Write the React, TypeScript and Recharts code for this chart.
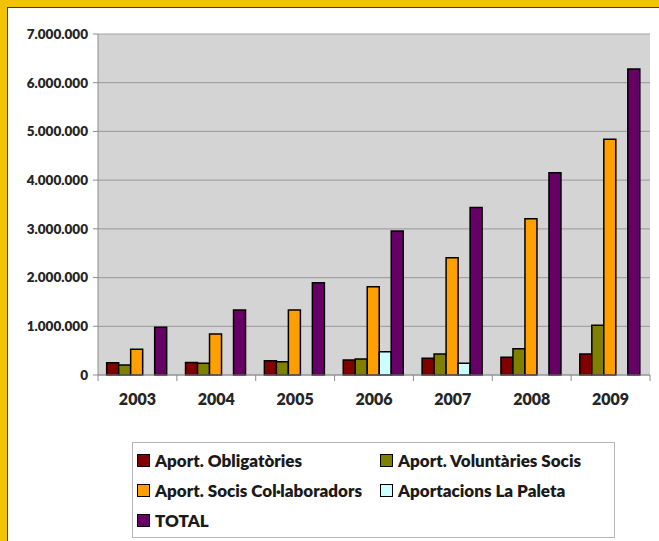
import { BarChart, Bar, XAxis, YAxis, CartesianGrid, Legend } from "recharts"

const YEARS = ["2003", "2004", "2005", "2006", "2007", "2008", "2009"]

const OBLIGATORIES = [253000, 255000, 294000, 308000, 343000, 363000, 431000]
const VOLUNTARIES = [205000, 242000, 273000, 328000, 431000, 540000, 1020000]
const COLLABORADORS = [527000, 842000, 1335000, 1810000, 2405000, 3210000, 4840000]
const PALETA = [null, null, null, 478000, 240000, null, null]
const TOTAL = [979000, 1335000, 1895000, 2955000, 3440000, 4150000, 6280000]

const Y_TICKS = [0, 1000000, 2000000, 3000000, 4000000, 5000000, 6000000, 7000000]

const SERIES = [
  { key: "obl", name: "Aport. Obligatòries", color: "#800000" },
  { key: "vol", name: "Aport. Voluntàries Socis", color: "#7F7F00" },
  { key: "col", name: "Aport. Socis Col·laboradors", color: "#FF9F00" },
  { key: "pal", name: "Aportacions La Paleta", color: "#CCFFFF" },
  { key: "tot", name: "TOTAL", color: "#660066" },
]

const data = YEARS.map((year, i) => ({
  year,
  obl: OBLIGATORIES[i],
  vol: VOLUNTARIES[i],
  col: COLLABORADORS[i],
  pal: PALETA[i],
  tot: TOTAL[i],
}))

const FONT = "Lato, 'Open Sans', sans-serif"

const formatThousands = (v: number) =>
  String(v).replace(/\B(?=(\d{3})+(?!\d))/g, ".")

const YearTick = (props: any) => {
  const { x, y, payload, index } = props
  const half = payload?.offset ?? 39.4
  return (
    <g>
      <line x1={x - half} x2={x - half} y1={y - 8} y2={y - 2} stroke="#8c8c8c" />
      {index === YEARS.length - 1 && (
        <line x1={x + half} x2={x + half} y1={y - 8} y2={y - 2} stroke="#8c8c8c" />
      )}
      <text
        x={x}
        y={y + 22}
        textAnchor="middle"
        fontFamily={FONT}
        fontWeight={800}
        fontSize={16}
        fill="#262626"
      >
        {payload.value}
      </text>
    </g>
  )
}

const LegendBox = () => (
  <div
    style={{
      border: "1px solid #b5b5b5",
      width: 481,
      height: 92,
      boxSizing: "content-box",
      display: "grid",
      gridTemplateColumns: "243px 238px",
      gridAutoRows: "30px",
      paddingTop: 2,
      fontFamily: FONT,
      fontWeight: 800,
      fontSize: 17,
      color: "#1a1a1a",
    }}
  >
    {SERIES.map((s) => (
      <div key={s.key} style={{ display: "flex", alignItems: "center", paddingLeft: 4 }}>
        <span
          style={{
            width: 11,
            height: 11,
            background: s.color,
            border: "1.5px solid #000",
            marginRight: 5,
            flex: "none",
          }}
        />
        <span style={{ whiteSpace: "nowrap" }}>{s.name}</span>
      </div>
    ))}
  </div>
)

export default function App() {
  return (
    <div
      style={{
        position: "absolute",
        left: 0,
        top: 0,
        width: 659,
        height: 541,
        background: "#F2C300",
        overflow: "hidden",
      }}
    >
      <div
        style={{
          position: "absolute",
          left: 7,
          top: 7,
          width: 660,
          height: 540,
          background: "#fff",
          borderTop: "1px solid #3a3a3a",
          borderLeft: "1px solid #3a3a3a",
        }}
      />
      <div style={{ position: "absolute", left: 0, top: 0 }}>
        <BarChart
          width={659}
          height={541}
          data={data}
          margin={{ top: 34, right: 9, bottom: 42, left: 0 }}
          barCategoryGap="11%"
          barGap={0}
        >
          <CartesianGrid
            vertical={false}
            fill="#D4D4D4"
            stroke="#A3A3A3"
            strokeWidth={1.2}
          />
          <XAxis
            dataKey="year"
            height={30}
            axisLine={{ stroke: "#8c8c8c" }}
            tickLine={false}
            tick={<YearTick />}
            interval={0}
          />
          <YAxis
            width={98}
            domain={[0, 7000000]}
            ticks={Y_TICKS}
            tickFormatter={formatThousands}
            axisLine={{ stroke: "#8c8c8c" }}
            tickLine={{ stroke: "#8c8c8c" }}
            tickSize={5}
            tickMargin={5}
            tick={{ fontFamily: FONT, fontWeight: 800, fontSize: 13.5, fill: "#262626" }}
            interval={0}
          />
          <YAxis
            yAxisId="frame"
            orientation="right"
            width={0}
            domain={[0, 7000000]}
            tick={false}
            tickLine={false}
            axisLine={{ stroke: "#9a9a9a", strokeWidth: 2 }}
          />
          {SERIES.map((s) => (
            <Bar
              key={s.key}
              dataKey={s.key}
              name={s.name}
              fill={s.color}
              stroke="#000"
              strokeWidth={1.5}
              isAnimationActive={false}
            />
          ))}
          <Legend
            content={<LegendBox />}
            wrapperStyle={{ position: "absolute", left: 132, top: 442, width: 483, height: 94 }}
          />
        </BarChart>
      </div>
    </div>
  )
}
